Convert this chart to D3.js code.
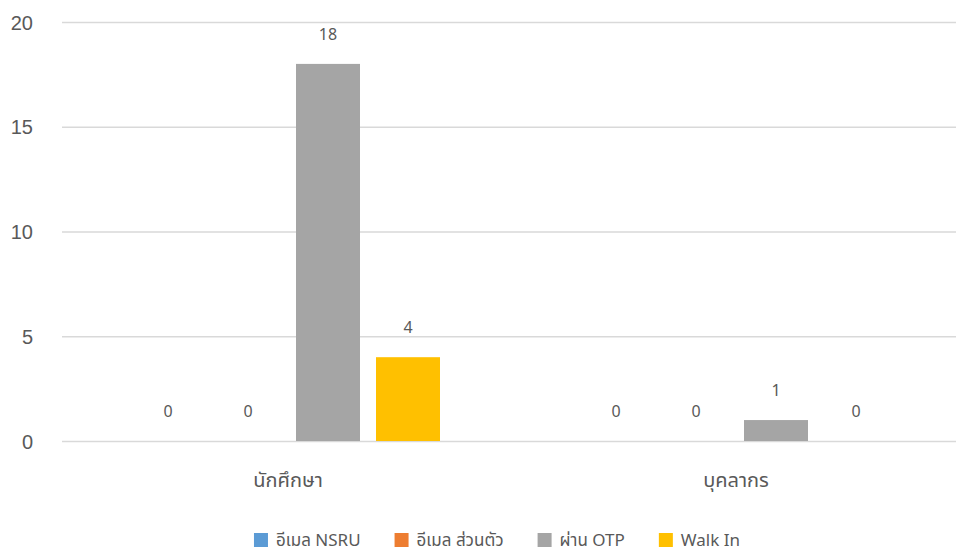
<!DOCTYPE html>
<html>
<head>
<meta charset="utf-8">
<script src="https://cdn.jsdelivr.net/npm/d3@7"></script>
<style>
  html, body { margin: 0; padding: 0; background: #fff; }
  svg { display: block; font-family: "Noto Sans Thai", "Noto Sans", "Open Sans", sans-serif; }
</style>
</head>
<body>
<svg id="chart" width="956" height="555"></svg>
<script>
const categories = ["นักศึกษา", "บุคลากร"];
const seriesNames = ["อีเมล NSRU", "อีเมล ส่วนตัว", "ผ่าน OTP", "Walk In"];
const seriesColors = ["#5B9BD5", "#ED7D31", "#A5A5A5", "#FFC000"];
const valuesNSRU = [0, 0];
const valuesPrivate = [0, 0];
const valuesOTP = [18, 1];
const valuesWalkIn = [4, 0];
const yTicks = [0, 5, 10, 15, 20];

const seriesValues = [valuesNSRU, valuesPrivate, valuesOTP, valuesWalkIn];

const svg = d3.select("#chart");
const textColor = "#595959";

const y = d3.scaleLinear().domain([0, 20]).range([441, 22]);
const x0 = d3.scaleBand().domain(categories).range([64, 960]).paddingInner(0).paddingOuter(0);
const x1 = d3.scaleBand().domain(seriesNames).range([-160, 160]).paddingInner(0.2).paddingOuter(0.1);

// gridlines
const yAxis = d3.axisLeft(y).tickValues(yTicks).tickSize(-(956 - 62)).tickPadding(30);
const gAxis = svg.append("g").attr("transform", "translate(62,0)").call(yAxis);
gAxis.select(".domain").remove();
gAxis.selectAll(".tick line").attr("stroke", "#d9d9d9").attr("stroke-width", 1.5);
gAxis.selectAll(".tick text")
  .attr("fill", textColor)
  .attr("font-size", 20)
  .attr("x", -29)
  .attr("dy", "0.35em");

// bars
const data = [];
categories.forEach((c, ci) => {
  seriesNames.forEach((s, si) => {
    data.push({ cat: c, series: s, value: seriesValues[si][ci], color: seriesColors[si] });
  });
});

const cx = d => x0(d.cat) + x0.bandwidth() / 2 + x1(d.series);

svg.append("g").selectAll("rect").data(data).join("rect")
  .attr("x", d => cx(d))
  .attr("y", d => y(d.value))
  .attr("width", x1.bandwidth())
  .attr("height", d => y(0) - y(d.value))
  .attr("fill", d => d.color);

svg.append("g").selectAll("text").data(data).join("text")
  .attr("x", d => cx(d) + x1.bandwidth() / 2)
  .attr("y", d => y(d.value) - 30)
  .attr("text-anchor", "middle")
  .attr("dy", "0.35em")
  .attr("font-size", 16)
  .attr("fill", textColor)
  .text(d => d.value);

// category labels
svg.append("g").selectAll("text").data(categories).join("text")
  .attr("x", d => x0(d) + x0.bandwidth() / 2)
  .attr("y", 480)
  .attr("text-anchor", "middle")
  .attr("dy", "0.35em")
  .attr("font-size", 20)
  .attr("fill", textColor)
  .text(d => d);

// legend
const legend = svg.append("g");
const items = legend.selectAll("g").data(seriesNames).join("g");
items.append("rect").attr("width", 14).attr("height", 14).attr("y", -7)
  .attr("fill", (d, i) => seriesColors[i]);
items.append("text").attr("x", 22).attr("dy", "0.35em")
  .attr("font-size", 17).attr("fill", textColor).text(d => d);
let xpos = 0;
const gap = 34;
items.each(function() {
  const g = d3.select(this);
  g.attr("transform", `translate(${xpos},0)`);
  const w = g.select("text").node().getComputedTextLength();
  xpos += 22 + w + gap;
});
const totalW = xpos - gap;
legend.attr("transform", `translate(${497 - totalW / 2},540)`);
</script>
</body>
</html>
